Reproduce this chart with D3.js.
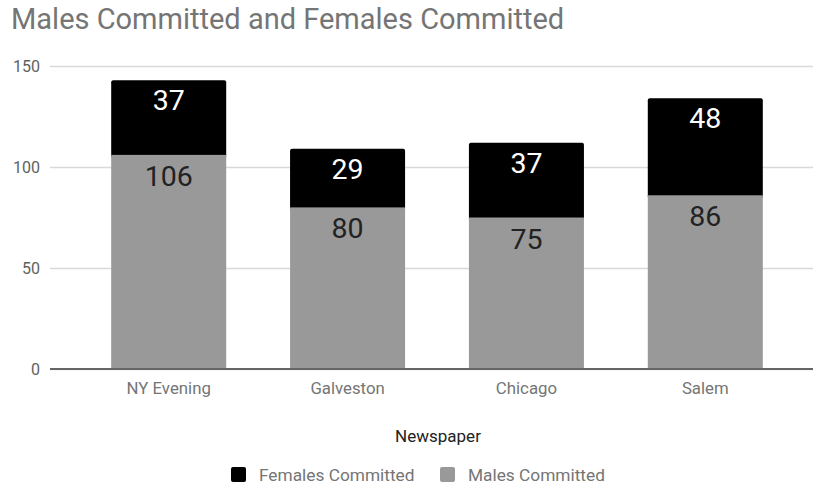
<!DOCTYPE html>
<html>
<head>
<meta charset="utf-8">
<title>Males Committed and Females Committed</title>
<script src="https://d3js.org/d3.v7.min.js"></script>
<style>
  body { margin: 0; background: #fff; }
  svg { display: block; font-family: Roboto, "Noto Sans", sans-serif; }
</style>
</head>
<body>
<svg width="813" height="484"></svg>
<script>
// data
const newspapers = ["NY Evening", "Galveston", "Chicago", "Salem"];
const malesCommitted = [106, 80, 75, 86];
const femalesCommitted = [37, 29, 37, 48];
const yTicks = [0, 50, 100, 150];

const svg = d3.select("svg");

const x = d3.scaleBand().domain(newspapers).range([79, 795]).paddingInner(0.357).paddingOuter(0.18);
const y = d3.scaleLinear().domain([0, 150]).range([369, 66]);

// title
svg.append("text")
  .attr("x", 11).attr("y", 29)
  .attr("font-size", 29)
  .attr("fill", "#757575")
  .text("Males Committed and Females Committed");

// gridlines + y labels
const yAxis = svg.append("g")
  .attr("transform", "translate(50,0)")
  .call(d3.axisLeft(y).tickValues(yTicks).tickSize(-763).tickPadding(10));
yAxis.select(".domain").remove();
yAxis.selectAll("line").attr("stroke", "#d9d9d9").attr("stroke-width", 1.5);
yAxis.selectAll("text").attr("font-size", 16).attr("fill", "#616161")
  .attr("font-family", "Roboto, sans-serif");

const rows = newspapers.map((n, i) => ({ name: n, male: malesCommitted[i], female: femalesCommitted[i] }));

// female segments (top)
svg.append("g").selectAll("rect")
  .data(rows).join("rect")
  .attr("x", d => x(d.name))
  .attr("width", x.bandwidth())
  .attr("y", d => y(d.male + d.female))
  .attr("height", d => y(d.male) - y(d.male + d.female) + 3)
  .attr("rx", 2)
  .attr("fill", "#000");

// male segments
svg.append("g").selectAll("rect")
  .data(rows).join("rect")
  .attr("x", d => x(d.name))
  .attr("width", x.bandwidth())
  .attr("y", d => y(d.male))
  .attr("height", d => y(0) - y(d.male))
  .attr("fill", "#999999");

// value labels
svg.append("g").selectAll("text")
  .data(rows).join("text")
  .attr("x", d => x(d.name) + x.bandwidth() / 2)
  .attr("y", d => y(d.male + d.female) + 30)
  .attr("text-anchor", "middle")
  .attr("font-size", 28.5)
  .attr("fill", "#fff")
  .text(d => d.female);

svg.append("g").selectAll("text")
  .data(rows).join("text")
  .attr("x", d => x(d.name) + x.bandwidth() / 2)
  .attr("y", d => y(d.male) + 31)
  .attr("text-anchor", "middle")
  .attr("font-size", 28.5)
  .attr("fill", "#222")
  .text(d => d.male);

// x axis
const xAxis = svg.append("g")
  .attr("transform", "translate(0,369)")
  .call(d3.axisBottom(x).tickSize(0).tickPadding(13));
xAxis.select(".domain").attr("d", "M50,0H813").attr("stroke", "#666").attr("stroke-width", 2);
xAxis.selectAll("text").attr("font-size", 16.8).attr("fill", "#757575")
  .attr("font-family", "Roboto, sans-serif");

// axis title
svg.append("text")
  .attr("x", 438).attr("y", 442)
  .attr("text-anchor", "middle")
  .attr("font-size", 17)
  .attr("fill", "#222")
  .text("Newspaper");

// legend
const legend = [
  { label: "Females Committed", color: "#000", x: 231 },
  { label: "Males Committed", color: "#999999", x: 440 }
];
const lg = svg.append("g").selectAll("g").data(legend).join("g")
  .attr("transform", d => `translate(${d.x},467)`);
lg.append("rect").attr("width", 15).attr("height", 15).attr("rx", 2).attr("fill", d => d.color);
lg.append("text").attr("x", 28).attr("y", 14)
  .attr("font-size", 17.3).attr("fill", "#757575")
  .text(d => d.label);
</script>
</body>
</html>
